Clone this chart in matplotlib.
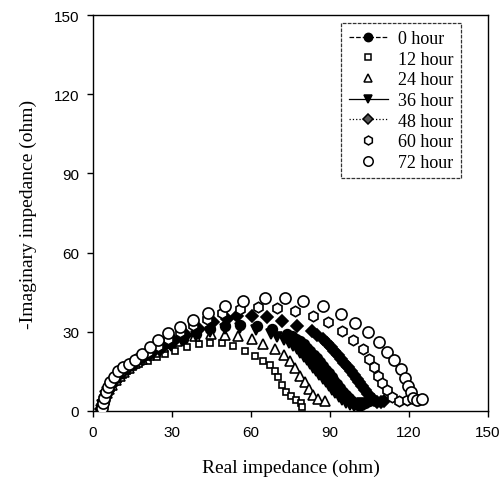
import matplotlib
matplotlib.use("Agg")
import matplotlib.pyplot as plt
from matplotlib.lines import Line2D

labels = ["0 hour", "12 hour", "24 hour", "36 hour", "48 hour", "60 hour", "72 hour"]

x_0h = [3.1, 3.5, 4.0, 4.6, 5.4, 6.4, 7.6, 9.1, 10.9, 13.0, 15.5, 18.4, 21.7, 25.4, 29.5, 34, 39, 44.4, 50, 56, 62.2, 67.9, 73.5,
        75.5, 77, 78.6, 80, 81.3, 82.6, 83.8, 85, 86.2, 87.3, 88.4, 89.5, 90.6, 91.7, 92.8, 93.9, 95, 96.1, 97.2, 98.3, 99.4, 100.5, 101.8, 103.2, 104.8]
y_0h = [0.6, 2.3, 4.0, 5.7, 7.4, 9.1, 10.8, 12.5, 14.2, 15.9, 17.7, 19.5, 21.4, 23.3, 25.2, 27.2, 29.2, 30.9, 32.1, 32.6, 32.3, 31.1, 29.2,
        28.3, 27.4, 26.6, 25.3, 24.0, 22.7, 21.3, 19.9, 18.5, 17.1, 15.7, 14.3, 12.9, 11.5, 10.1, 8.7, 7.3, 6.0, 4.8, 3.7, 2.8, 2.3, 2.2, 3.0, 3.9]

x_12h = [3.0, 3.3, 3.8, 4.4, 5.1, 6.0, 7.0, 8.2, 9.6, 11.2, 13.0, 15.1, 17.5, 20.9, 24.2, 27.3, 31.1, 35.6, 40.3, 44.4, 48.9, 53.3, 57.7, 61.5, 64.7, 67.2, 69.1, 70.4, 71.6, 73.3, 75.2, 77.1, 79.0, 79.5]
y_12h = [0.4, 1.9, 3.4, 4.9, 6.4, 7.9, 9.4, 10.9, 12.3, 13.7, 15.1, 16.5, 17.8, 19.1, 20.3, 21.6, 22.8, 24.1, 25.4, 25.8, 25.7, 24.7, 22.8, 21.0, 19.0, 17.4, 15.3, 12.8, 9.9, 7.3, 5.6, 4.3, 3.0, 1.5]

x_24h = [3.0, 3.4, 3.9, 4.5, 5.3, 6.2, 7.3, 8.6, 10.1, 11.8, 13.8, 16.1, 18.6, 21.4, 23.5, 26.7, 31.8, 38.7, 44.8, 50.1, 55.2, 60.3, 64.7, 69.1, 72.5, 74.8, 76.7, 78.6, 80.5, 82.2, 83.7, 85.6, 88.1]
y_24h = [0.5, 2.0, 3.6, 5.2, 6.8, 8.4, 10.0, 11.6, 13.2, 14.8, 16.4, 18.0, 19.6, 21.1, 22.4, 24.1, 26.4, 28.3, 29.1, 28.9, 28.5, 27.3, 25.4, 23.3, 21.3, 19.0, 16.2, 13.4, 10.9, 8.3, 5.9, 4.5, 3.9]

x_36h = [3.1, 3.5, 4.0, 4.6, 5.4, 6.4, 7.6, 9.1, 10.9, 13.0, 15.5, 18.4, 21.7, 25.4, 29.5, 34, 39, 44.4, 50, 56, 62, 67.5,
         70, 72.5, 74.5, 76, 77.4, 78.7, 80, 81.2, 82.4, 83.6, 84.8, 86, 87.2, 88.4, 89.6, 90.8, 92, 93.3, 94.6, 96, 97.5, 99, 100.5, 102]
y_36h = [0.5, 2.1, 3.8, 5.5, 7.2, 8.9, 10.6, 12.3, 14.0, 15.7, 17.4, 19.2, 21.0, 22.8, 24.7, 26.6, 28.5, 30.0, 31.0, 31.3, 30.6, 29.2,
         28.2, 27.0, 25.8, 24.6, 23.3, 22.0, 20.6, 19.2, 17.8, 16.4, 15.0, 13.6, 12.2, 10.8, 9.4, 8.0, 6.7, 5.4, 4.2, 3.2, 2.4, 2.0, 2.3, 3.0]

x_48h = [3.2, 3.6, 4.1, 4.8, 5.6, 6.6, 7.9, 9.5, 11.4, 13.7, 16.3, 19.3, 22.7, 26.5, 30.7, 35.3, 40.3, 45.7, 50.8, 54.6, 60.3, 66, 71.6, 77.4, 83,
         85.2, 87.2, 88.8, 90.3, 91.7, 93, 94.3, 95.5, 96.7, 97.9, 99, 100.1, 101.2, 102.3, 103.4, 104.5, 105.6, 106.8, 108, 109.3, 110.6]
y_48h = [0.7, 2.5, 4.3, 6.1, 7.9, 9.7, 11.4, 13.1, 14.8, 16.6, 18.4, 20.3, 22.3, 24.4, 26.6, 28.9, 31.2, 33.6, 35.0, 36.0, 36.1, 35.5, 34.2, 32.3, 30.4,
         28.9, 27.3, 25.8, 24.3, 22.8, 21.3, 19.8, 18.3, 16.8, 15.3, 13.8, 12.3, 10.8, 9.3, 7.8, 6.4, 5.1, 4.0, 3.3, 3.3, 3.9]

x_60h = [3.3, 3.8, 4.3, 5.0, 5.9, 7.0, 8.4, 10.2, 12.3, 14.8, 17.6, 20.8, 24.5, 28.5, 33, 38, 43.3, 48.9, 55.8, 62.8, 69.8, 76.7, 83.4, 89.4, 94.4, 98.9, 102.7, 104.9, 106.7, 108.2, 109.8, 111.5, 113.6, 116.4, 119.4, 122.2]
y_60h = [0.8, 2.8, 4.8, 6.8, 8.8, 10.8, 12.7, 14.6, 16.4, 18.3, 20.3, 22.4, 24.7, 27.2, 29.8, 32.4, 35.0, 37.0, 38.6, 39.3, 38.9, 38.0, 36.1, 33.6, 30.4, 26.8, 23.4, 19.8, 16.5, 13.4, 10.6, 7.8, 5.3, 3.9, 4.2, 4.6]

x_72h = [3.3, 3.7, 4.2, 4.8, 5.6, 6.6, 7.8, 9.5, 11.5, 13.5, 16.0, 18.5, 21.6, 24.7, 28.5, 33.0, 38.0, 43.7, 50.0, 57.0, 65.3, 72.9, 79.9, 87.5, 94.1, 99.5, 104.6, 108.8, 111.8, 114.5, 116.8, 118.5, 119.8, 120.8, 121.6, 123.0, 124.8]
y_72h = [1.0, 3.0, 5.0, 7.0, 9.0, 11.0, 13.0, 15.0, 16.8, 17.8, 19.5, 21.6, 24.2, 26.9, 29.5, 31.8, 34.5, 37.2, 39.6, 41.5, 42.8, 42.7, 41.6, 39.6, 36.7, 33.4, 29.8, 26.0, 22.5, 19.3, 15.9, 12.4, 9.6, 7.0, 5.0, 4.0, 4.5]

x_ticks = [0, 30, 60, 90, 120, 150]
y_ticks = [0, 30, 60, 90, 120, 150]

serif = ["Liberation Serif", "DejaVu Serif"]
sans = ["Liberation Sans", "DejaVu Sans"]

fig = plt.figure(figsize=(5.03, 4.81), dpi=100)
ax = fig.add_axes([0.185, 0.1435, 0.785, 0.8232])

styles = [
    dict(marker="o", mfc="black", lfc="black", mec="black", ms=7, ls="--"),
    dict(marker="s", mfc="white", lfc="white", mec="black", ms=5, ls="none"),
    dict(marker="^", mfc="white", lfc="white", mec="black", ms=6.5, ls="none"),
    dict(marker="v", mfc="black", lfc="black", mec="black", ms=7, ls="-"),
    dict(marker="D", mfc="black", lfc="#555555", mec="black", ms=6, ls=":"),
    dict(marker="h", mfc="white", lfc="white", mec="black", ms=7.5, ls="none"),
    dict(marker="o", mfc="white", lfc="white", mec="black", ms=8, ls="none"),
]
data = [(x_0h, y_0h), (x_12h, y_12h), (x_24h, y_24h), (x_36h, y_36h),
        (x_48h, y_48h), (x_60h, y_60h), (x_72h, y_72h)]

order = [6, 5, 4, 0, 3, 2, 1]
for i in order:
    xs, ys = data[i]
    st = styles[i]
    ax.plot(xs, ys, linestyle="none", marker=st["marker"], mfc=st["mfc"],
            mec=st["mec"], ms=st["ms"], mew=1.2, zorder=3 + i * 0.1)

handles = []
for i, lab in enumerate(labels):
    st = styles[i]
    handles.append(Line2D([], [], color="black", lw=0.9, linestyle=st["ls"],
                          marker=st["marker"], mfc=st["lfc"], mec=st["mec"],
                          ms=st["ms"] * 0.85, mew=1.1))
leg = ax.legend(handles, labels, loc="upper right", bbox_to_anchor=(0.932, 0.98),
                prop={"family": serif, "size": 13}, frameon=True, fancybox=False,
                edgecolor="black", handlelength=2.15, labelspacing=0.2,
                borderpad=0.4, handletextpad=0.6, borderaxespad=0)
leg.get_frame().set_linewidth(0.9)
leg.get_frame().set_linestyle((0, (3, 1)))

ax.set_xlim(0, 150)
ax.set_ylim(0, 150)
ax.set_xticks(x_ticks)
ax.set_yticks(y_ticks)
ax.tick_params(direction="out", length=4, width=1, labelsize=11, pad=6)
for lab in ax.get_xticklabels() + ax.get_yticklabels():
    lab.set_family(sans)
for sp in ax.spines.values():
    sp.set_linewidth(1.0)

ax.set_xlabel("Real impedance (ohm)", family=serif, size=14, labelpad=14)
ax.set_ylabel("-Imaginary impedance (ohm)", family=serif, size=14, labelpad=12)

fig.savefig("out.png", dpi=100)
